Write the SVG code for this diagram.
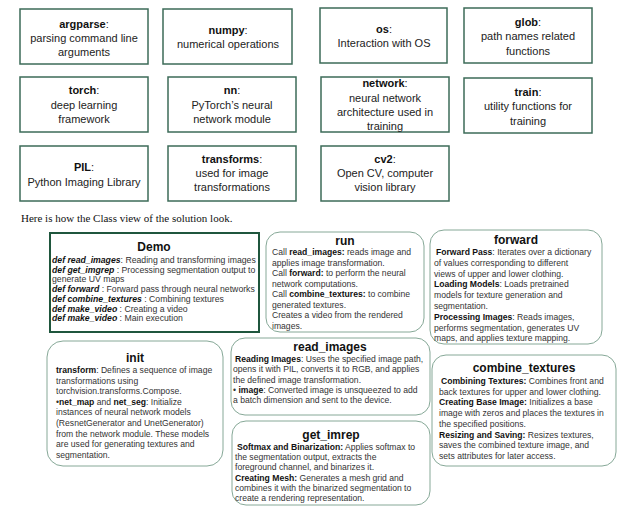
<svg xmlns="http://www.w3.org/2000/svg" width="636" height="510" viewBox="0 0 636 510">
<style>
.mod{fill:#fff;stroke:#3c6b58;stroke-width:1.5}
.demo{fill:#fff;stroke:#1f563d;stroke-width:2}
.cls{fill:#fff;stroke:#86a897;stroke-width:1}
.mt{font-family:"Liberation Sans",Arial,sans-serif;font-size:11px;fill:#222;text-anchor:middle}
.b{font-weight:bold;fill:#111}
.bi{font-weight:bold;font-style:italic;fill:#111}
.ttl{font-family:"Liberation Sans",Arial,sans-serif;font-size:12px;font-weight:bold;fill:#111;text-anchor:middle}
.bt{font-family:"Liberation Sans",Arial,sans-serif;font-size:8.6px;fill:#333}
.dt{font-family:"Liberation Sans",Arial,sans-serif;font-size:8.7px;fill:#333}
.cap{font-family:"Liberation Serif","Times New Roman",serif;font-size:11px;fill:#111}
</style>
<g id="argparse"><rect class="mod" x="20" y="9" width="128" height="55"/><text class="mt" x="84" y="28"><tspan class="b">argparse</tspan>:</text><text class="mt" x="84" y="42">parsing command line</text><text class="mt" x="84" y="56">arguments</text></g>
<g id="numpy"><rect class="mod" x="163" y="9" width="129" height="55"/><text class="mt" x="228" y="34"><tspan class="b">numpy</tspan>:</text><text class="mt" x="228" y="48">numerical operations</text></g>
<g id="os"><rect class="mod" x="320" y="8" width="127" height="55"/><text class="mt" x="384" y="33"><tspan class="b">os</tspan>:</text><text class="mt" x="384" y="47">Interaction with OS</text></g>
<g id="glob"><rect class="mod" x="464" y="8" width="128" height="55"/><text class="mt" x="528" y="26"><tspan class="b">glob</tspan>:</text><text class="mt" x="528" y="40">path names related</text><text class="mt" x="528" y="55">functions</text></g>
<g id="torch"><rect class="mod" x="20" y="77" width="128" height="55"/><text class="mt" x="84" y="94"><tspan class="b">torch</tspan>:</text><text class="mt" x="84" y="109">deep learning</text><text class="mt" x="84" y="123">framework</text></g>
<g id="nn"><rect class="mod" x="168" y="77" width="128" height="55"/><text class="mt" x="232" y="94"><tspan class="b">nn</tspan>:</text><text class="mt" x="232" y="109">PyTorch’s neural</text><text class="mt" x="232" y="123">network module</text></g>
<g id="network"><rect class="mod" x="321" y="77" width="128" height="55"/><text class="mt" x="385" y="87"><tspan class="b">network</tspan>:</text><text class="mt" x="385" y="102">neural network</text><text class="mt" x="385" y="116">architecture used in</text><text class="mt" x="385" y="130">training</text></g>
<g id="train"><rect class="mod" x="464" y="78" width="128" height="55"/><text class="mt" x="528" y="96"><tspan class="b">train</tspan>:</text><text class="mt" x="528" y="110">utility functions for</text><text class="mt" x="528" y="125">training</text></g>
<g id="PIL"><rect class="mod" x="20" y="146" width="128" height="55"/><text class="mt" x="84" y="171"><tspan class="b">PIL</tspan>:</text><text class="mt" x="84" y="186">Python Imaging Library</text></g>
<g id="transforms"><rect class="mod" x="168" y="146" width="128" height="55"/><text class="mt" x="232" y="163"><tspan class="b">transforms</tspan>:</text><text class="mt" x="232" y="177">used for image</text><text class="mt" x="232" y="191">transformations</text></g>
<g id="cv2"><rect class="mod" x="321" y="146" width="128" height="55"/><text class="mt" x="385" y="163"><tspan class="b">cv2</tspan>:</text><text class="mt" x="385" y="177">Open CV, computer</text><text class="mt" x="385" y="191">vision library</text></g>
<text class="cap" x="21" y="222">Here is how the Class view of the solution look.</text>
<g id="Demo"><rect class="demo" x="50" y="233" width="209" height="99"/><text class="ttl" x="154" y="251">Demo</text>
<text class="dt" x="52" y="263"><tspan class="bi">def read_images</tspan>: Reading and transforming images</text>
<text class="dt" x="52" y="272.7"><tspan class="bi">def get_imgrep</tspan> : Processing segmentation output to</text>
<text class="dt" x="52" y="282.4">generate UV maps</text>
<text class="dt" x="52" y="292.1"><tspan class="bi">def forward</tspan> : Forward pass through neural networks</text>
<text class="dt" x="52" y="301.8"><tspan class="bi">def combine_textures</tspan> : Combining textures</text>
<text class="dt" x="52" y="311.5"><tspan class="bi">def make_video</tspan> : Creating a video</text>
<text class="dt" x="52" y="321.2"><tspan class="bi">def make_video</tspan> : Main execution</text></g>
<g id="run"><rect class="cls" x="266" y="232" width="158" height="100" rx="14"/><text class="ttl" x="345" y="245">run</text>
<text class="bt" x="272" y="255">Call <tspan class="b">read_images:</tspan> reads image and</text>
<text class="bt" x="272" y="265.5">applies image transformation.</text>
<text class="bt" x="272" y="276">Call <tspan class="b">forward:</tspan> to perform the neural</text>
<text class="bt" x="272" y="286.5">network computations.</text>
<text class="bt" x="272" y="297">Call <tspan class="b">combine_textures:</tspan> to combine</text>
<text class="bt" x="272" y="307.5">generated textures.</text>
<text class="bt" x="272" y="318">Creates a video from the rendered</text>
<text class="bt" x="272" y="328.5">images.</text></g>
<g id="forward"><rect class="cls" x="430" y="230" width="172" height="114" rx="14"/><text class="ttl" x="516" y="244">forward</text>
<text class="bt" x="436" y="255"> <tspan class="b">Forward Pass</tspan>: Iterates over a dictionary</text>
<text class="bt" x="434" y="265.8">of values corresponding to different</text>
<text class="bt" x="434" y="276.6">views of upper and lower clothing.</text>
<text class="bt" x="434" y="287.4"><tspan class="b">Loading Models</tspan>: Loads pretrained</text>
<text class="bt" x="434" y="298.2">models for texture generation and</text>
<text class="bt" x="434" y="309">segmentation.</text>
<text class="bt" x="434" y="319.8"><tspan class="b">Processing Images</tspan>: Reads images,</text>
<text class="bt" x="434" y="330.6">performs segmentation, generates UV</text>
<text class="bt" x="434" y="341.4">maps, and applies texture mapping.</text></g>
<g id="init"><rect class="cls" x="47" y="341" width="176" height="125" rx="16"/><text class="ttl" x="135" y="362">init</text>
<text class="bt" x="56" y="373"><tspan class="b">transform</tspan>: Defines a sequence of image</text>
<text class="bt" x="56" y="383.6">transformations using</text>
<text class="bt" x="56" y="394.2">torchvision.transforms.Compose.</text>
<text class="bt" x="56" y="404.8">•<tspan class="b">net_map</tspan> and <tspan class="b">net_seg</tspan>: Initialize</text>
<text class="bt" x="56" y="415.4">instances of neural network models</text>
<text class="bt" x="56" y="426">(ResnetGenerator and UnetGenerator)</text>
<text class="bt" x="56" y="436.6">from the network module. These models</text>
<text class="bt" x="56" y="447.2">are used for generating textures and</text>
<text class="bt" x="56" y="457.8">segmentation.</text></g>
<g id="read_images"><rect class="cls" x="231" y="338" width="199" height="77" rx="14"/><text class="ttl" x="330" y="351">read_images</text>
<text class="bt" x="235" y="362"> <tspan class="b">Reading Images</tspan>: Uses the specified image path,</text>
<text class="bt" x="233" y="372.3">opens it with PIL, converts it to RGB, and applies</text>
<text class="bt" x="233" y="382.6">the defined image transformation.</text>
<text class="bt" x="233" y="392.9">• <tspan class="b">image</tspan>: Converted image is unsqueezed to add</text>
<text class="bt" x="233" y="403.2">a batch dimension and sent to the device.</text></g>
<g id="get_imrep"><rect class="cls" x="232" y="421" width="198" height="84" rx="14"/><text class="ttl" x="331" y="439">get_imrep</text>
<text class="bt" x="237" y="450"> <tspan class="b">Softmax and Binarization:</tspan> Applies softmax to</text>
<text class="bt" x="235" y="460.2">the segmentation output, extracts the</text>
<text class="bt" x="235" y="470.4">foreground channel, and binarizes it.</text>
<text class="bt" x="235" y="480.6"><tspan class="b">Creating Mesh:</tspan> Generates a mesh grid and</text>
<text class="bt" x="235" y="490.8">combines it with the binarized segmentation to</text>
<text class="bt" x="235" y="501">create a rendering representation.</text></g>
<g id="combine_textures"><rect class="cls" x="432" y="355" width="184" height="111" rx="14"/><text class="ttl" x="524" y="372">combine_textures</text>
<text class="bt" x="441" y="384"> <tspan class="b">Combining Textures:</tspan> Combines front and</text>
<text class="bt" x="439" y="394.7">back textures for upper and lower clothing.</text>
<text class="bt" x="439" y="405.4"><tspan class="b">Creating Base Image:</tspan> Initializes a base</text>
<text class="bt" x="439" y="416.1">image with zeros and places the textures in</text>
<text class="bt" x="439" y="426.8">the specified positions.</text>
<text class="bt" x="439" y="437.5"><tspan class="b">Resizing and Saving:</tspan> Resizes textures,</text>
<text class="bt" x="439" y="448.2">saves the combined texture image, and</text>
<text class="bt" x="439" y="458.9">sets attributes for later access.</text></g>
<g id="connectors"></g>
</svg>
